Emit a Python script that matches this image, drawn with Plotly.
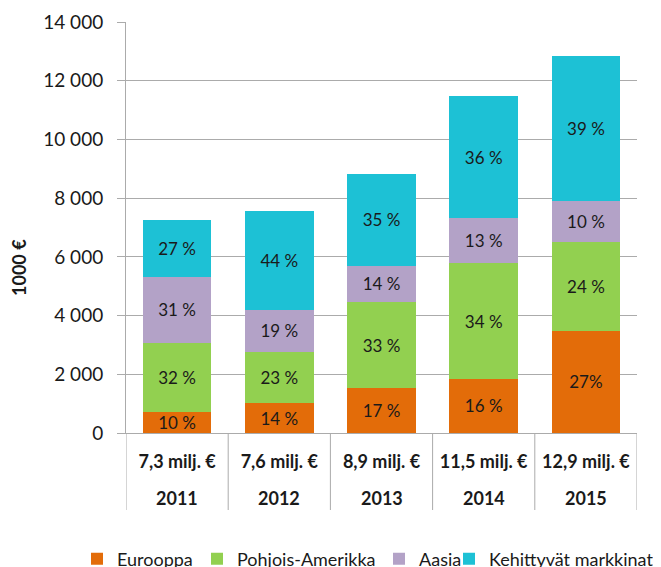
import plotly.graph_objects as go

years = ["2011", "2012", "2013", "2014", "2015"]
totals = ["7,3 milj. €", "7,6 milj. €", "8,9 milj. €", "11,5 milj. €", "12,9 milj. €"]

series_names = ["Eurooppa", "Pohjois-Amerikka", "Aasia", "Kehittyvät markkinat"]
eurooppa = [730, 1010, 1520, 1850, 3480]
pohjois_amerikka = [2320, 1750, 2950, 3930, 3040]
aasia = [2280, 1430, 1230, 1530, 1370]
kehittyvat = [1940, 3360, 3120, 4180, 4960]

eurooppa_pct = ["10 %", "14 %", "17 %", "16 %", "27%"]
pohjois_pct = ["32 %", "23 %", "33 %", "34 %", "24 %"]
aasia_pct = ["31 %", "19 %", "14 %", "13 %", "10 %"]
kehittyvat_pct = ["27 %", "44 %", "35 %", "36 %", "39 %"]

colors = ["#E36C09", "#92D050", "#B3A2C7", "#1DC1D5"]

FONT = "Lato"
TXT = "#1a1a1a"
LINE = "#ababab"

# page offset of the figure (default body margin)
OFF = 8
W, H = 661 - OFF, 567 - OFF
L = 126 - OFF
T = 22 - OFF
R = W - (637 - OFF)
B = H - (433 - OFF)
PH = H - T - B
PW = W - L - R


def px_x(page_x):
    return (page_x - OFF - L) / PW


def px_y(page_y):
    return (433 - page_y) / PH


legend_ids = ["legend", "legend2", "legend3", "legend4"]
legend_left_page = [77, 197, 379, 449]

fig = go.Figure()
for name, vals, pct, col, lid in zip(
    series_names,
    [eurooppa, pohjois_amerikka, aasia, kehittyvat],
    [eurooppa_pct, pohjois_pct, aasia_pct, kehittyvat_pct],
    colors, legend_ids,
):
    fig.add_trace(go.Bar(
        x=years, y=vals, name=name, text=pct, legend=lid,
        marker=dict(color=col, line=dict(width=0)),
        textposition="inside", insidetextanchor="middle", textangle=0,
        constraintext="none",
        textfont=dict(family=FONT, size=17, color=TXT),
        hoverinfo="skip",
    ))

legend_common = dict(
    orientation="h", yanchor="middle", y=px_y(559),
    xanchor="left", font=dict(family=FONT, size=18, color=TXT),
    itemwidth=30, bgcolor="rgba(0,0,0,0)", borderwidth=0,
)
legends = {}
for lid, xp in zip(legend_ids, legend_left_page):
    legends[lid] = dict(legend_common, x=px_x(xp))

fig.update_layout(
    barmode="stack",
    bargap=0.33,
    width=W, height=H,
    margin=dict(l=L, r=R, t=T, b=B, autoexpand=False),
    paper_bgcolor="white", plot_bgcolor="white",
    separators=", ",
    font=dict(family=FONT, size=17, color=TXT),
    showlegend=True,
    **legends,
)

fig.update_yaxes(
    range=[0, 14000], dtick=2000, tickformat=",d",
    showgrid=True, gridcolor=LINE, gridwidth=1,
    showline=True, linecolor=LINE, linewidth=1,
    ticks="outside", ticklen=8, tickcolor=LINE,
    tickfont=dict(family=FONT, size=19, color=TXT),
    ticklabelstandoff=10,
    zeroline=False, automargin=False,
)
fig.update_xaxes(
    type="category", range=[-0.5, len(years) - 0.5],
    tickvals=years, ticktext=totals,
    showline=True, linecolor=LINE, linewidth=1,
    tickfont=dict(family=FONT, size=18, color=TXT, weight="bold"),
    ticks="", ticklabelstandoff=12, automargin=False,
)

# category table dividers (in x-axis category coordinates)
for i in range(len(years) + 1):
    fig.add_shape(
        type="line", xref="x", yref="paper",
        x0=i - 0.5, x1=i - 0.5, y0=0, y1=px_y(510),
        line=dict(color=LINE, width=1),
    )

# second-level labels: years (placed at category index)
for i, yr in enumerate(years):
    fig.add_annotation(
        x=i, xref="x", y=px_y(498), yref="paper",
        text=yr, showarrow=False, xanchor="center", yanchor="middle",
        font=dict(family=FONT, size=18, color=TXT, weight="bold"),
    )

fig.add_annotation(
    text="<b>1000 €</b>", xref="paper", yref="paper",
    x=px_x(19), y=px_y(268),
    xanchor="center", yanchor="middle",
    textangle=-90, showarrow=False,
    font=dict(family=FONT, size=18, color=TXT),
)

fig.write_html("out.html")
